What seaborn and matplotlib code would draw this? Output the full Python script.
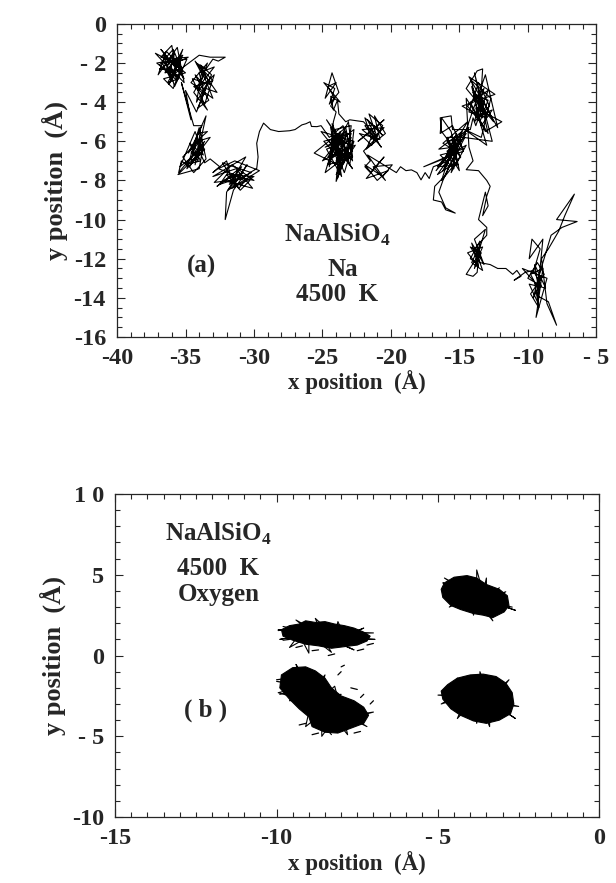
import numpy as np
import pandas as pd
import seaborn as sns
import matplotlib.pyplot as plt
from matplotlib.ticker import MultipleLocator

# ---------------- panel (a): Na trajectory ----------------
a1_x = [-36.5, -35.8, -36.2, -35.4, -36.8, -36.0, -35.7, -36.9, -35.2, -36.3, -35.5, -37.2, -36.1, -35.0, -36.6,
        -35.9, -35.3, -36.4, -37.0, -35.6, -35.1, -36.2, -35.8, -35.4, -34.9, -36.7, -36.0, -35.2, -35.7, -34.8,
        -36.3, -35.6, -36.9, -35.9, -35.3, -36.5, -36.0, -35.1, -36.8, -35.7, -36.2, -35.5, -37.1, -36.4, -35.8,
        -35.2, -36.6, -36.1]
a1_y = [-2.0, -1.5, -2.6, -2.0, -1.7, -1.1, -2.4, -2.3, -1.6, -3.0, -2.8, -1.5, -1.9, -2.5, -2.8,
        -3.3, -2.2, -1.4, -2.6, -1.2, -3.0, -2.2, -3.2, -2.6, -1.8, -2.0, -2.9, -1.3, -2.0, -1.7,
        -1.8, -2.9, -2.1, -1.3, -2.3, -2.5, -1.6, -2.8, -1.3, -2.2, -3.1, -1.8, -2.0, -2.4, -1.9,
        -2.4, -1.6, -2.7]
a2_x = [-34.0, -33.2, -32.1, -32.6, -33.0, -33.5, -34.2, -33.0, -34.4, -33.6, -34.0, -32.9, -33.8, -34.3, -33.3,
        -34.1, -33.5, -32.7, -34.3, -33.7, -34.4, -33.4, -33.9, -33.1, -33.9, -33.2, -34.5, -33.6, -32.9, -34.1,
        -33.4, -34.6, -33.0, -33.8, -34.2, -33.3]
a2_y = [-1.6, -1.7, -1.7, -1.9, -1.8, -2.3, -2.0, -2.9, -3.2, -3.6, -2.5, -2.2, -3.0, -2.6, -3.9,
        -4.3, -3.3, -3.5, -1.9, -2.7, -3.5, -4.4, -3.8, -2.6, -2.1, -3.1, -2.8, -4.1, -2.6, -3.4,
        -2.0, -3.0, -3.8, -2.4, -4.0, -2.9]
a3_x = [-34.2, -35.0, -34.6, -35.3, -34.4, -33.8, -34.2, -33.5, -34.0, -33.6, -34.3, -33.8, -34.6, -34.1, -33.4,
        -34.5, -33.9, -35.0, -34.2, -35.5, -35.3, -34.7, -33.7, -34.0, -35.55, -34.4, -33.2, -34.1, -34.8, -33.9,
        -34.3, -33.9, -34.6, -33.6, -34.9, -34.0, -33.5, -34.4, -35.2, -33.8, -34.1, -34.7, -33.7, -34.3, -35.4,
        -34.0, -33.6]
a3_y = [-4.5, -3.4, -4.9, -3.0, -5.2, -5.2, -5.8, -4.7, -6.3, -6.0, -6.8, -6.6, -7.0, -5.6, -5.5,
        -6.2, -7.0, -7.2, -6.5, -7.6, -7.0, -7.3, -6.2, -7.4, -7.7, -6.9, -5.8, -6.0, -6.6, -5.4,
        -7.2, -5.9, -6.6, -6.4, -7.4, -5.3, -6.9, -7.6, -6.8, -5.8, -7.0, -6.1, -6.7, -5.5, -7.3,
        -6.5, -7.1]
a4_x = [-33.2, -32.5, -33.0, -32.0, -31.8, -32.5, -31.2, -30.5, -31.6, -30.0, -32.0, -31.0, -30.3, -32.6, -31.4,
        -29.6, -31.9, -30.8, -32.2, -30.1, -31.3, -33.0, -30.6, -31.7, -31.5, -32.7, -30.9, -31.8, -30.2, -32.3,
        -31.1, -30.5, -32.9, -31.6, -30.0, -31.3, -32.0, -32.1, -31.5, -31.0, -30.3, -29.8]
a4_y = [-6.9, -7.3, -7.6, -7.0, -7.5, -8.2, -7.9, -7.2, -8.4, -7.8, -7.7, -8.5, -8.0, -7.4, -7.0,
        -7.5, -8.5, -7.6, -8.0, -8.4, -7.4, -7.8, -6.8, -8.1, -7.7, -8.3, -7.3, -8.2, -7.6, -7.1,
        -8.4, -7.9, -8.1, -7.2, -8.0, -7.8, -8.6, -10.0, -8.5, -8.0, -7.6, -7.4]
path1_x = [-29.7, -29.8, -29.6, -29.3, -28.8, -28.2, -27.4, -27.0, -26.5, -26.2, -25.9, -25.8, -25.4, -25.1]
path1_y = [-6.8, -6.1, -5.5, -5.07, -5.4, -5.5, -5.46, -5.4, -5.16, -5.1, -5.0, -5.24, -5.25, -5.2]
b1_x = [-24.5, -23.5, -22.8, -24.0, -23.2, -24.8, -23.8, -22.7, -23.0, -24.3, -23.6, -25.1, -22.7, -23.4, -24.1,
        -23.1, -22.8, -24.6, -23.7, -23.3, -24.4, -22.9, -23.9, -23.5, -24.7, -22.8, -23.0, -24.2, -23.6, -25.6,
        -23.3, -23.0, -24.0, -23.8, -24.5, -23.2, -22.9, -24.1, -23.7, -24.8, -24.2, -23.4, -24.9, -22.9, -23.8,
        -24.4, -23.1, -24.0, -22.6, -24.6, -23.5, -23.9, -22.8, -24.3, -23.3, -25.0, -23.7, -22.9, -24.1, -23.6,
        -24.7, -23.2, -23.9, -24.5]
b1_y = [-5.8, -5.2, -6.5, -7.0, -5.6, -6.3, -6.0, -5.4, -7.2, -5.1, -6.8, -5.5, -6.0, -7.6, -6.4,
        -5.0, -6.8, -7.2, -5.5, -6.4, -6.9, -5.8, -7.9, -6.1, -4.9, -7.0, -6.2, -5.7, -7.3, -6.6,
        -5.3, -6.3, -8.05, -6.6, -6.0, -6.9, -5.2, -5.4, -7.0, -7.6, -6.2, -7.1, -6.0, -5.6, -7.5,
        -5.3, -6.6, -7.7, -6.2, -6.8, -5.7, -6.3, -7.4, -6.0, -5.5, -7.0, -6.5, -6.9, -5.9, -7.8,
        -6.4, -6.0, -5.6, -7.3]
b0_x = [-24.2, -24.0, -24.4, -24.1, -24.6, -24.0, -24.8, -24.3, -23.8, -24.5, -24.1, -24.9, -23.7, -24.4, -24.2,
        -23.9, -23.8, -23.3, -23.0]
b0_y = [-5.0, -4.5, -4.2, -3.8, -3.2, -3.0, -3.8, -2.5, -3.5, -4.1, -3.3, -3.0, -4.0, -3.7, -4.4,
        -3.9, -4.6, -5.0, -4.9]
b2_x = [-22.0, -21.0, -21.6, -20.6, -21.4, -22.3, -20.8, -21.2, -20.4, -21.8, -21.1, -20.5, -22.4, -21.5, -20.7,
        -21.9, -21.2, -20.6, -21.7, -20.9, -22.1, -20.5, -21.4, -21.9, -20.8, -21.3]
b2_y = [-5.0, -5.8, -4.6, -5.2, -6.2, -5.6, -5.9, -4.7, -5.6, -6.4, -5.3, -4.9, -6.0, -5.5, -6.3,
        -5.2, -5.2, -5.7, -4.9, -6.1, -5.4, -5.3, -5.9, -4.8, -5.5, -6.0]
b3_x = [-22.0, -21.5, -21.9, -21.5, -20.5, -21.8, -20.2, -21.0, -21.9, -20.6, -19.9, -21.3, -20.4, -21.7, -19.6]
b3_y = [-6.5, -7.0, -7.3, -7.6, -6.8, -7.9, -7.5, -8.0, -7.2, -7.8, -7.2, -7.3, -8.0, -6.7, -7.6]
path2_x = [-19.3, -18.9, -18.5, -18.1, -17.8, -17.5, -17.2, -16.9]
path2_y = [-7.3, -7.5, -7.46, -7.6, -7.97, -7.6, -7.9, -7.3]
c1_x = [-15.8, -15.0, -16.2, -15.4, -16.5, -14.8, -15.6, -14.5, -16.0, -15.2, -16.3, -14.9, -15.7, -14.3, -16.6,
        -15.1, -15.9, -14.6, -16.1, -16.8, -16.9, -16.3, -16.0, -15.3, -16.0, -16.5, -16.2, -15.3, -17.6, -14.7,
        -15.5, -16.4, -16.3, -15.6, -15.0, -15.8, -14.4, -16.2, -15.5, -16.3, -14.8, -15.9, -15.1, -16.6, -14.5,
        -15.7, -16.0, -15.2, -14.7, -16.4, -15.4, -15.9, -14.9, -16.7, -15.3, -15.0]
c1_y = [-7.0, -6.0, -7.5, -6.3, -6.4, -5.5, -7.6, -6.2, -6.8, -5.6, -8.0, -6.8, -6.2, -5.3, -7.3,
        -7.2, -5.8, -5.8, -7.8, -8.3, -9.0, -9.1, -9.5, -9.67, -9.4, -8.6, -8.0, -6.6, -7.3, -6.5,
        -5.2, -5.6, -4.8, -5.5, -7.5, -6.6, -5.0, -6.1, -6.4, -7.1, -5.9, -6.0, -7.0, -7.7, -5.6,
        -6.9, -7.3, -5.9, -6.4, -6.7, -7.4, -6.5, -6.0, -7.5, -6.1, -6.7]
c2_x = [-16.3, -16.4, -15.6, -15.5,
        -14.2, -14.0, -13.8, -13.2, -14.0, -13.0, -14.3, -13.6, -12.8, -13.9, -13.4, -12.5, -14.5, -13.7, -13.3,
        -13.5, -12.9, -14.2, -13.1, -11.9, -13.8, -13.0, -14.6, -13.4, -12.7, -14.1, -13.6, -13.6, -13.0, -14.1,
        -13.4, -12.6, -13.8, -13.2, -14.4, -13.5, -12.9, -13.9, -13.3, -14.8, -12.4, -14.3, -12.2, -13.1, -14.7,
        -12.6, -13.9, -12.9, -14.5]
c2_y = [-5.5, -4.8, -4.7, -5.4,
        -5.4, -4.8, -5.2, -4.0, -3.5, -4.8, -4.5, -3.0, -4.2, -5.0, -3.7, -5.0, -3.3, -2.4, -2.3,
        -4.5, -3.4, -4.0, -5.5, -5.0, -4.3, -6.2, -5.4, -5.8, -3.8, -2.9, -4.9, -3.9, -4.6, -3.2,
        -5.2, -4.4, -4.7, -3.3, -4.2, -5.0, -3.9, -3.6, -4.8, -4.2, -3.6, -2.7, -5.3, -2.6, -5.8,
        -6.0, -2.5, -5.6, -3.8]
path3_x = [-14.3, -14.0, -14.5, -13.6, -13.0, -12.75, -13.0, -13.3, -12.9, -13.1, -13.6, -13.0, -13.0]
path3_y = [-6.3, -7.0, -7.45, -7.5, -8.0, -8.3, -8.8, -9.8, -9.3, -8.6, -10.0, -10.4, -10.8]
d1_x = [-13.9, -13.4, -14.1, -13.6, -14.4, -13.3, -13.8, -14.2, -13.5, -13.7, -14.0, -14.5, -13.6, -13.2, -13.9,
        -13.1, -13.7, -14.2, -13.4, -13.9, -13.5, -14.1, -13.3, -13.8, -13.5]
d1_y = [-11.5, -12.0, -11.2, -12.4, -11.7, -11.4, -12.2, -12.0, -11.1, -12.7, -12.9, -12.8, -11.8, -12.3, -11.0,
        -10.5, -11.9, -11.4, -11.7, -12.5, -11.3, -12.2, -12.6, -11.6, -12.2]
path4_x = [-12.75, -12.2, -11.6, -11.1, -10.8, -10.5, -11.0, -10.2]
path4_y = [-12.3, -12.5, -12.5, -12.8, -12.6, -12.9, -13.1, -12.7]
d2_x = [-9.6, -9.0, -10.0, -9.3, -8.8, -9.8, -9.2, -9.5, -10.4, -8.6, -9.4, -8.9, -9.8, -9.2, -9.5,
        -8.7, -9.9, -9.3, -9.1, -9.6, -9.1, -9.7, -9.9, -8.9,
        -9.3, -8.5, -7.9, -8.6, -9.0, -8.5, -7.75, -7.3, -6.6, -7.9, -6.4, -7.5, -8.3, -9.2, -9.6, -9.1]
d2_y = [-12.6, -13.4, -13.0, -12.2, -12.8, -13.8, -14.5, -13.2, -12.5, -13.0, -15.0, -12.5, -12.8, -13.6, -12.3,
        -13.5, -13.3, -14.2, -12.9, -12.7, -11.5, -11.0, -12.0, -11.0,
        -13.9, -14.2, -15.4, -14.3, -12.0, -11.5, -10.6, -9.8, -8.7, -10.0, -10.1, -10.4, -10.8, -12.9, -14.0, -13.3]

na_x = (a1_x + a2_x + a3_x + a4_x + path1_x + b1_x + b0_x + b2_x + b3_x + path2_x
        + c1_x + c2_x + path3_x + d1_x + path4_x + d2_x)
na_y = (a1_y + a2_y + a3_y + a4_y + path1_y + b1_y + b0_y + b2_y + b3_y + path2_y
        + c1_y + c2_y + path3_y + d1_y + path4_y + d2_y)

# ---------------- panel (b): oxygen clusters ----------------
# blob outlines (dense, solid black regions)
o1_x = [-9.85, -9.6, -9.3, -9.1, -8.8, -8.5, -8.2, -7.9, -7.6, -7.3, -7.1, -7.2, -7.5, -7.9, -8.3, -8.7, -9.1,
        -9.5, -9.8]
o1_y = [1.6, 1.85, 1.95, 2.15, 2.05, 2.1, 1.95, 1.85, 1.7, 1.45, 1.2, 0.9, 0.65, 0.55, 0.45, 0.6, 0.7,
        0.95, 1.2]
o2_x = [-9.85, -9.5, -9.1, -8.8, -8.5, -8.3, -8.0, -7.6, -7.3, -7.15, -7.3, -7.7, -8.1, -8.5, -8.9, -9.0,
        -9.3, -9.6, -9.9]
o2_y = [-1.2, -0.75, -0.7, -0.95, -1.4, -2.0, -2.5, -2.8, -3.2, -3.7, -4.2, -4.5, -4.8, -4.75, -4.4, -3.8,
        -3.3, -2.7, -2.0]
o3_x = [-4.8, -4.5, -4.1, -3.8, -3.5, -3.1, -2.85, -2.8, -2.95, -3.3, -3.6, -3.9, -4.3, -4.6, -4.85, -4.9]
o3_y = [4.5, 4.85, 4.95, 4.8, 4.4, 4.1, 3.7, 3.1, 2.7, 2.35, 2.5, 2.6, 2.85, 3.1, 3.6, 4.1]
o4_x = [-4.7, -4.4, -4.0, -3.6, -3.2, -2.9, -2.7, -2.65, -2.75, -3.1, -3.5, -3.9, -4.3, -4.6, -4.85, -4.9]
o4_y = [-1.8, -1.4, -1.2, -1.15, -1.3, -1.7, -2.3, -3.0, -3.6, -4.0, -4.2, -4.05, -3.7, -3.3, -2.7, -2.2]

# jagged strokes poking out of the blobs
s1_x = [-9.2, -9.95, -8.9, -9.4, -8.6, -8.8, -8.2, -8.1, -7.9, -7.3, -8.0, -6.95, -8.4, -7.6, -8.6,
        -8.3, -9.0, -9.0, -9.3, -9.6, -8.8, -9.9, -8.4, -7.0, -8.7, -9.8]
s1_y = [1.4, 1.6, 1.4, 2.2, 1.3, 2.3, 1.2, 2.1, 1.2, 1.7, 1.1, 1.0, 1.1, 0.35, 1.2,
        0.2, 1.3, 0.15, 1.3, 0.5, 1.4, 1.0, 1.5, 1.4, 1.3, 1.8]
s2_x = [-9.2, -10.0, -9.0, -9.4, -8.9, -8.5, -8.7, -8.0, -8.5, -7.9, -8.0, -7.0, -7.9, -7.8, -8.2,
        -8.6, -8.6, -9.1, -8.9, -9.6, -9.3, -9.95, -8.4, -7.2, -8.0, -8.2, -9.0, -8.3]
s2_y = [-1.8, -1.6, -2.0, -0.55, -2.2, -1.2, -2.6, -2.4, -3.5, -3.0, -3.8, -3.5, -4.0, -4.9, -3.9,
        -5.0, -3.6, -4.4, -2.6, -2.8, -2.0, -2.3, -3.2, -4.4, -3.4, -1.9, -3.3, -4.9]
s3_x = [-4.2, -4.8, -3.9, -4.6, -3.8, -3.8, -3.6, -3.5, -3.5, -2.9, -3.4, -2.7, -3.6, -3.3, -3.8,
        -3.9, -4.0, -4.65, -4.1, -4.85, -3.7, -2.6, -3.5, -3.1]
s3_y = [4.0, 4.8, 3.8, 4.4, 3.7, 5.3, 3.9, 4.8, 3.5, 3.95, 3.3, 3.0, 3.2, 2.15, 3.4,
        2.5, 3.6, 3.0, 3.9, 4.5, 3.6, 2.8, 3.4, 4.2]
s4_x = [-4.2, -5.0, -4.0, -4.4, -3.7, -3.7, -3.4, -2.8, -3.3, -2.5, -3.4, -3.4, -3.7, -3.8, -3.9,
        -4.4, -4.1, -4.9, -4.3, -4.6, -3.5, -2.6, -3.2]
s4_y = [-2.4, -2.45, -2.6, -1.4, -2.4, -1.0, -2.6, -1.5, -2.8, -3.15, -3.0, -4.4, -2.9, -4.2, -2.8,
        -3.9, -2.5, -3.0, -2.3, -1.8, -2.7, -3.9, -3.1]
# loose dashes around the left clusters
dash_x = [-9.8, -9.6, -9.4, -9.2, -8.9, -8.7, -7.2, -7.0, -9.95, -9.75, -8.4, -8.2, -7.5, -7.3,
          -10.0, -9.8, -9.9, -9.7, -8.1, -8.0, -7.7, -7.5, -7.4, -7.3, -7.1, -7.0, -9.3, -9.1,
          -8.9, -8.7, -7.6, -7.4, -8.0, -7.9]
dash_y = [0.95, 1.0, 0.5, 0.6, 0.3, 0.35, 0.65, 0.75, 1.55, 1.6, 0.0, 0.1, 0.3, 0.4,
          -1.5, -1.45, -2.4, -2.3, -1.2, -1.0, -2.0, -2.1, -2.6, -2.4, -3.0, -2.8, -4.3, -4.2,
          -4.9, -4.8, -4.8, -4.7, -0.7, -0.6]

# ---------------- style ----------------
sns.set_style("ticks")
plt.rcParams["font.family"] = ["Liberation Serif", "DejaVu Serif"]
plt.rcParams["font.weight"] = "bold"
plt.rcParams["mathtext.fontset"] = "custom"
plt.rcParams["mathtext.rm"] = "Liberation Serif:bold"
plt.rcParams["mathtext.bf"] = "Liberation Serif:bold"

fig = plt.figure(figsize=(6.16, 8.83), dpi=100)
ax1 = fig.add_axes([0.190, 0.6184, 0.778, 0.3545])
ax2 = fig.add_axes([0.187, 0.0747, 0.786, 0.3658])

LW = 0.8
sns.lineplot(x=na_x, y=na_y, sort=False, estimator=None, color="black", lw=LW, ax=ax1)

for bx, by in [(o1_x, o1_y), (o2_x, o2_y), (o3_x, o3_y), (o4_x, o4_y)]:
    ax2.fill(bx, by, color="black", lw=0.8)
for sx, sy in [(s1_x, s1_y), (s2_x, s2_y), (s3_x, s3_y), (s4_x, s4_y)]:
    sns.lineplot(x=sx, y=sy, sort=False, estimator=None, color="black", lw=LW, ax=ax2)
dash_df = pd.DataFrame({"x": dash_x, "y": dash_y, "seg": np.repeat(np.arange(len(dash_x) // 2), 2)})
sns.lineplot(data=dash_df, x="x", y="y", units="seg", estimator=None, sort=False,
             color="black", lw=0.9, ax=ax2)


def style_axes(ax, xlim, ylim, xmaj, xmin, ymaj, ymin, xlabels, ylabels):
    ax.set_xlim(*xlim)
    ax.set_ylim(*ylim)
    ax.xaxis.set_minor_locator(MultipleLocator(xmin))
    ax.yaxis.set_minor_locator(MultipleLocator(ymin))
    ax.set_xticks(np.arange(xlim[0], xlim[1] + 0.01, xmaj))
    ax.set_xticklabels(xlabels)
    ax.set_yticks(np.arange(ylim[0], ylim[1] + 0.01, ymaj))
    ax.set_yticklabels(ylabels)
    ax.tick_params(which="both", direction="in", top=True, right=True, width=0.8,
                   labelsize=17.5, pad=8)
    ax.tick_params(which="major", length=6)
    ax.tick_params(which="minor", length=3.5)
    for sp in ax.spines.values():
        sp.set_linewidth(0.9)
    ax.set_xlabel("x position  (Å)", fontsize=16.5, fontweight="bold", labelpad=1)
    ax.set_ylabel("y position  (Å)", fontsize=19, fontweight="bold", labelpad=4)


style_axes(ax1, (-40, -5), (-16, 0), 5, 1, 2, 0.5,
           ["-40", "-35", "-30", "-25", "-20", "-15", "-10", "- 5"],
           ["-16", "-14", "-12", "-10", "- 8", "- 6", "- 4", "- 2", "0"])
style_axes(ax2, (-15, 0), (-10, 10), 5, 0.5, 5, 1,
           ["-15", "-10", "- 5", "0"],
           ["-10", "- 5", "0", "5", "1 0"])

txt = dict(fontsize=18, fontweight="bold", ha="center", va="center")
ax1.text(-23.9, -10.8, r"NaAlSiO$_{4}$", **txt)
ax1.text(-23.5, -12.55, "Na", **txt)
ax1.text(-23.9, -13.85, "4500  K", **txt)
ax1.text(-33.8, -12.4, "(a)", **txt)

ax2.text(-11.8, 7.55, r"NaAlSiO$_{4}$", **txt)
ax2.text(-11.8, 5.4, "4500  K", **txt)
ax2.text(-11.8, 3.75, "Oxygen", **txt)
ax2.text(-12.2, -3.4, "( b )", **txt)

fig.savefig("out.png", dpi=100)
